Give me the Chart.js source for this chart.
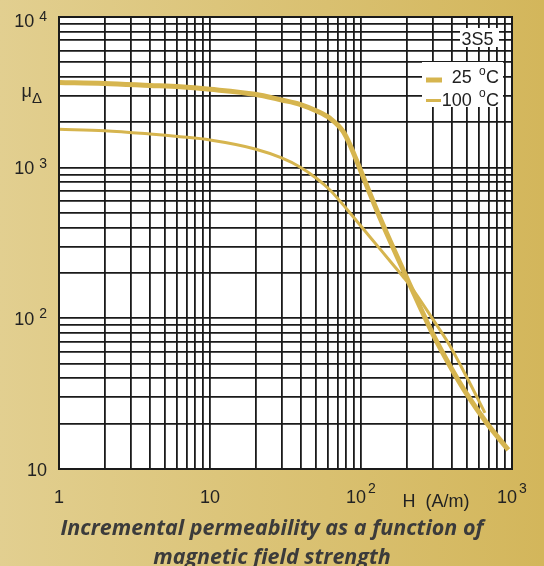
<!DOCTYPE html>
<html><head><meta charset="utf-8">
<script src="https://cdn.jsdelivr.net/npm/chart.js@4"></script>
<style>
html,body{margin:0;padding:0;}
body{width:544px;height:566px;overflow:hidden;background:linear-gradient(to right,#e2cf90,#d3b65b);}
canvas{display:block;}
</style></head><body>
<canvas id="c" width="544" height="566"></canvas>
<script>
// ---- data ----
const h25  = [1, 2, 4, 6.33, 10, 19.9, 29.8, 39.4, 50.9, 62.3, 76.3, 84.6, 98.5, 123.8, 148.7, 181.3, 211, 246, 301, 388.5, 501, 680, 945];
const mu25 = [3676, 3620, 3512, 3440, 3313, 3069, 2813, 2635, 2378, 2127, 1734, 1415, 980, 557, 363, 233, 166.6, 119, 77.6, 48.3, 31.5, 20.2, 13.4];
const h100  = [1, 2, 4, 6.33, 10, 19.9, 29.8, 39.4, 50.9, 62.3, 80.4, 93.6, 114.7, 155.6, 190.6, 211, 301, 388.5, 501, 662];
const mu100 = [1798, 1761, 1674, 1606, 1527, 1331, 1160, 1011, 848, 711, 532, 443, 347, 240, 188, 165.3, 97.6, 65.6, 40.8, 23.6];

const xGridTicks = [1,2,3,4,5,6,7,8,9,10,20,30,40,50,60,70,80,90,100,200,300,400,500,600,700,800,900,1000];
const yGridTicks = [10,20,30,40,50,60,70,80,90,100,200,300,400,500,600,700,800,900,1000,2000,3000,4000,5000,6000,7000,8000,9000,10000];

const xLabelValues = [1, 10, 100, 1000];
const xLabelBases  = ['1', '10', '10', '10'];
const xLabelExps   = ['', '', '2', '3'];
const yLabelValues = [10, 100, 1000, 10000];
const yLabelBases  = ['10', '10', '10', '10'];
const yLabelExps   = ['', '2', '3', '4'];

const seriesNames = ['25', '100'];
const materialName = '3S5';
const xAxisTitle = 'H  (A/m)';
const titleLines = ['Incremental permeability as a function of', 'magnetic field strength'];

const CURVE = '#d6b54f';
const INK = '#1a1a1a';
const SANS = "'Liberation Sans', Arial, sans-serif";

function drawSup(ctx, base, sup, x, y, align, baseFont, supFont, gap, rise) {
  ctx.font = baseFont; const bw = ctx.measureText(base).width;
  ctx.font = supFont; const sw = sup ? ctx.measureText(sup).width : 0;
  const total = bw + (sup ? gap + sw : 0);
  const left = align === 'right' ? x - total : align === 'center' ? x - total / 2 : x;
  ctx.textAlign = 'left'; ctx.textBaseline = 'alphabetic';
  ctx.font = baseFont; ctx.fillText(base, left, y);
  if (sup) { ctx.font = supFont; ctx.fillText(sup, left + bw + gap, y - rise); }
}

const deco = {
  id: 'deco',
  beforeDraw(chart) {
    const {ctx, chartArea: a} = chart;
    ctx.save(); ctx.fillStyle = '#ffffff';
    ctx.fillRect(a.left, a.top, a.right - a.left, a.bottom - a.top);
    ctx.restore();
  },
  beforeDatasetsDraw(chart) {
    const {ctx} = chart;
    ctx.save();
    ctx.fillStyle = '#ffffff';
    ctx.fillRect(460, 28, 39, 19);
    ctx.fillRect(422, 62, 81, 45);
    ctx.restore();
  },
  afterDraw(chart) {
    const {ctx, chartArea: a, scales} = chart;
    ctx.save();
    ctx.strokeStyle = INK; ctx.lineWidth = 2;
    ctx.strokeRect(a.left, a.top, a.right - a.left, a.bottom - a.top);
    ctx.fillStyle = '#222';
    const bf = '18px ' + SANS, sf = '14px ' + SANS;
    yLabelValues.forEach((v, i) => {
      const py = Math.max(scales.y.getPixelForValue(v), a.top + 3.5);
      drawSup(ctx, yLabelBases[i], yLabelExps[i], 47, py + 6.5, 'right', bf, sf, 5, 6.5);
    });
    xLabelValues.forEach((v, i) => {
      const px = scales.x.getPixelForValue(v);
      drawSup(ctx, xLabelBases[i], xLabelExps[i], px, a.bottom + 33.5, 'center', bf, sf, 2, 9.5);
    });
    ctx.font = bf; ctx.textAlign = 'left';
    ctx.fillText(xAxisTitle, 402.5, 507);
    ctx.font = '18px ' + SANS; ctx.fillText('\u03bc', 21.5, 97);
    ctx.font = '15px ' + SANS; ctx.fillText('\u0394', 32, 103);
    ctx.font = bf; ctx.fillText(materialName, 461.5, 45);
    ctx.fillStyle = CURVE;
    ctx.fillRect(426, 77.5, 16, 5);
    ctx.fillRect(426, 99, 15, 3);
    ctx.fillStyle = '#222';
    ctx.font = bf; ctx.fillText(seriesNames[0], 451.7, 83.3);
    ctx.font = '12px ' + SANS; ctx.fillText('o', 479, 75);
    ctx.font = bf; ctx.fillText('C', 486, 83.3);
    ctx.font = bf; ctx.fillText(seriesNames[1], 441.7, 106);
    ctx.font = '12px ' + SANS; ctx.fillText('o', 479, 97);
    ctx.font = bf; ctx.fillText('C', 486, 106);
    ctx.fillStyle = '#3b3b3b';
    ctx.font = "italic bold 21.5px 'Open Sans', Lato, sans-serif";
    ctx.textAlign = 'center';
    ctx.fillText(titleLines[0], 272, 535);
    ctx.fillText(titleLines[1], 272, 563.5);
    ctx.restore();
  }
};

const toPts = (xs, ys) => xs.map((x, i) => ({x, y: ys[i]}));

new Chart(document.getElementById('c'), {
  type: 'line',
  data: {
    datasets: [
      {label: '25 °C', data: toPts(h25, mu25), borderColor: CURVE, borderWidth: 5, pointRadius: 0,
       cubicInterpolationMode: 'monotone', order: 0, borderCapStyle: 'butt'},
      {label: '100 °C', data: toPts(h100, mu100), borderColor: CURVE, borderWidth: 3, pointRadius: 0,
       cubicInterpolationMode: 'monotone', order: 1, borderCapStyle: 'butt'}
    ]
  },
  options: {
    responsive: false, animation: false, devicePixelRatio: 1,
    layout: {padding: {left: 59, top: 17, right: 32, bottom: 97}},
    plugins: {legend: {display: false}, tooltip: {enabled: false}},
    scales: {
      x: {type: 'logarithmic', min: 1, max: 1000,
          afterBuildTicks: s => { s.ticks = xGridTicks.map(v => ({value: v})); },
          ticks: {display: false},
          grid: {color: INK, lineWidth: 1.8, drawTicks: false},
          border: {display: false}},
      y: {type: 'logarithmic', min: 10, max: 10000,
          afterBuildTicks: s => { s.ticks = yGridTicks.map(v => ({value: v})); },
          ticks: {display: false},
          grid: {color: INK, lineWidth: 1.8, drawTicks: false},
          border: {display: false}}
    }
  },
  plugins: [deco]
});
</script>
</body></html>
